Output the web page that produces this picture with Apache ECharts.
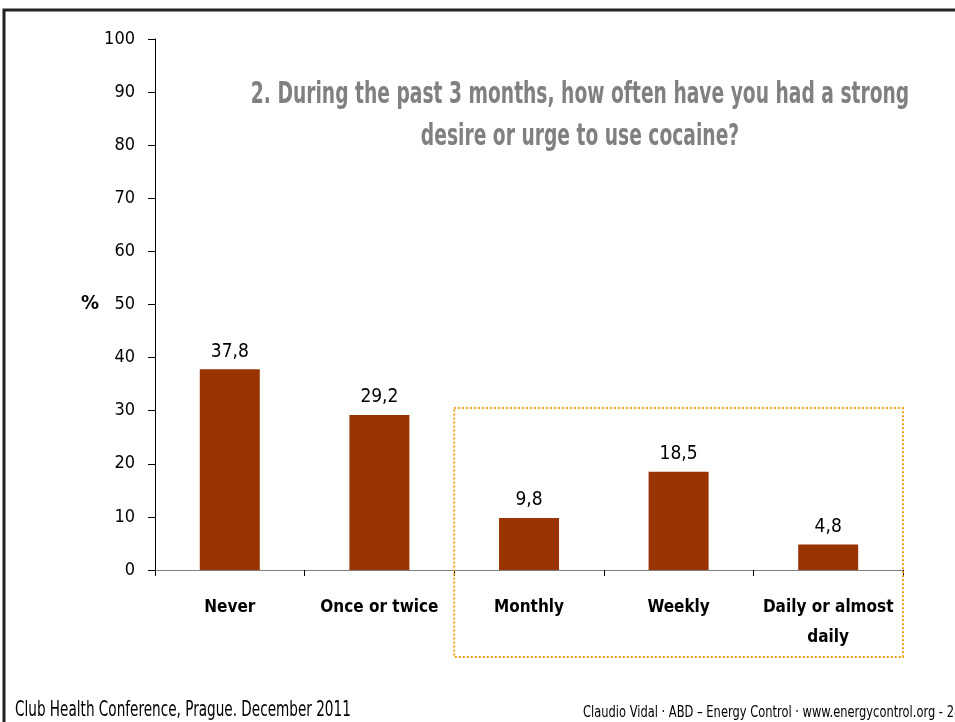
<!DOCTYPE html>
<html><head><meta charset="utf-8">
<script src="https://cdn.jsdelivr.net/npm/echarts@6/dist/echarts.min.js"></script>
<style>html,body{margin:0;padding:0;background:#fff;}#c{width:955px;height:722px;}</style>
</head><body><div id="c"></div>
<script>
const categories = ['Never', 'Once or twice', 'Monthly', 'Weekly', 'Daily or almost\ndaily'];
const values = [37.8, 29.2, 9.8, 18.5, 4.8];
const yTicks = [0, 10, 20, 30, 40, 50, 60, 70, 80, 90, 100];
const FONT = '"DejaVu Sans Condensed","Liberation Sans Narrow",sans-serif';

const chart = echarts.init(document.getElementById('c'));
const option = {
  backgroundColor: '#fff',
  animation: false,
  grid: { left: 155, right: 52, top: 39, bottom: 152 },
  xAxis: {
    type: 'category', data: categories,
    axisLine: { lineStyle: { color: '#808080', width: 1 } },
    axisTick: { show: true, length: 6, lineStyle: { color: '#000' }, alignWithLabel: false },
    axisLabel: { color: '#000', fontFamily: FONT, fontWeight: 'bold', fontSize: 17, lineHeight: 30, margin: 23, interval: 0 }
  },
  yAxis: {
    type: 'value', min: yTicks[0], max: yTicks[yTicks.length - 1], interval: 10,
    splitLine: { show: false },
    axisLine: { show: true, lineStyle: { color: '#000' } },
    axisTick: { show: true, length: 7, inside: false, lineStyle: { color: '#000' } },
    axisLabel: { color: '#000', fontFamily: FONT, fontSize: 18, margin: 20 }
  },
  series: [{
    type: 'bar', data: values, barWidth: 60,
    itemStyle: { color: '#993300' },
    label: { show: true, position: 'top', distance: 8, color: '#000', fontFamily: FONT, fontSize: 19,
      formatter: p => String(p.value).replace('.', ',') }
  }]
};
chart.setOption(option);

// annotation box around the last three categories
const pxL = chart.convertToPixel({ xAxisIndex: 0 }, 'Monthly');
const pxR = chart.convertToPixel({ xAxisIndex: 0 }, 'Daily or almost\ndaily');
const bandW = (pxR - pxL) / 2;
const boxL = pxL - bandW / 2, boxR = pxR + bandW / 2;
const boxT = chart.convertToPixel({ yAxisIndex: 0 }, 30.5);

chart.setOption({
  graphic: [
    { type: 'rect', shape: { x: 4, y: 10, width: 960, height: 720 }, style: { fill: 'none', stroke: '#222', lineWidth: 3 }, silent: true },
    { type: 'rect', shape: { x: boxL, y: boxT, width: boxR - boxL, height: 657 - boxT }, style: { fill: 'none', stroke: '#F5A21B', lineWidth: 2, lineDash: [2, 2] }, z: 10 },
    { type: 'text', x: 580, y: 116, scaleX: 0.67, style: { text: '2. During the past 3 months, how often have you had a strong\ndesire or urge to use cocaine?', x: 0, y: 0, align: 'center', verticalAlign: 'middle', fill: '#808080', font: 'bold 31px ' + FONT, lineHeight: 42 } },
    { type: 'text', style: { text: '%', x: 90, y: 304, align: 'center', verticalAlign: 'middle', fill: '#000', font: 'bold 20px ' + FONT } },
    { type: 'text', x: 15, y: 711, scaleX: 0.72, style: { text: 'Club Health Conference, Prague. December 2011', x: 0, y: 0, verticalAlign: 'middle', fill: '#000', font: '21px ' + FONT } },
    { type: 'text', x: 583, y: 713, scaleX: 0.85, style: { text: 'Claudio Vidal · ABD – Energy Control · www.energycontrol.org - 28', x: 0, y: 0, verticalAlign: 'middle', fill: '#000', font: '15px ' + FONT } }
  ]
});
</script></body></html>
